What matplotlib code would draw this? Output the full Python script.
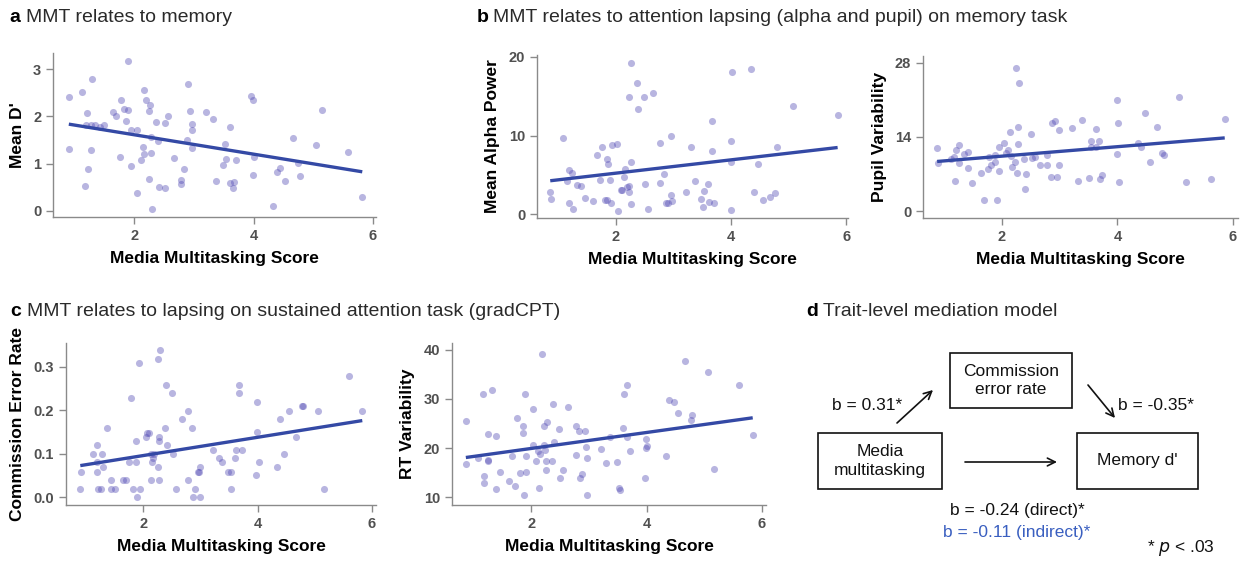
import numpy as np
import matplotlib.pyplot as plt
from matplotlib.patches import Rectangle

plt.rcParams['font.family'] = ['Liberation Sans', 'DejaVu Sans']

# a: memory d'
mem_x = [0.905, 0.91, 1.12, 1.30, 1.21, 1.20, 1.27, 1.35, 1.42, 1.50, 1.27, 1.22, 1.18,
         1.78, 1.64, 1.69, 1.83, 1.89, 1.90, 1.87, 1.76, 1.95, 2.05, 1.95, 2.14, 2.16,
         2.11, 2.05, 2.17, 2.20, 2.26, 2.25, 2.28, 2.40, 2.37, 2.28, 2.25, 2.29, 2.42,
         2.51, 2.52, 2.57, 2.66, 2.88, 2.84, 2.78, 2.78, 2.90, 2.94, 2.97, 2.96, 2.97,
         3.21, 3.32, 3.37, 3.52, 3.53, 3.48, 3.60, 3.61, 3.67, 3.66, 3.71, 3.96, 3.99,
         4.00, 3.99, 4.33, 4.39, 4.45, 4.53, 4.66, 4.74, 4.78, 5.04, 5.15, 5.58, 5.82]
mem_y = [2.41, 1.30, 2.51, 2.79, 2.06, 1.81, 1.81, 1.81, 1.78, 1.81, 1.29, 0.89, 0.52,
         2.34, 2.10, 2.00, 2.15, 3.17, 2.13, 1.91, 1.13, 1.71, 1.71, 0.95, 1.35, 1.21,
         1.07, 0.37, 2.55, 2.34, 2.24, 2.11, 1.57, 1.48, 1.88, 1.23, 0.68, 0.04, 0.51,
         0.49, 1.85, 2.01, 1.12, 1.49, 0.89, 0.66, 0.56, 2.68, 2.12, 1.83, 1.71, 1.32,
         2.10, 1.95, 0.63, 1.42, 1.09, 0.97, 1.77, 0.59, 0.61, 0.49, 1.07, 2.44, 2.34,
         1.13, 0.76, 0.10, 0.83, 0.90, 0.63, 1.54, 1.02, 0.73, 1.40, 2.14, 1.25, 0.30]

# b: alpha power
alpha_x = [0.86, 0.87, 1.08, 1.18, 1.24, 1.15, 1.18, 1.26, 1.33, 1.40, 1.46, 1.61, 1.67,
           1.75, 1.73, 1.81, 1.85, 1.85, 1.87, 1.89, 1.91, 1.93, 2.03, 2.02, 2.09, 2.11,
           2.15, 2.14, 2.19, 2.23, 2.23, 2.26, 2.26, 2.23, 2.27, 2.36, 2.38, 2.49, 2.65,
           2.51, 2.56, 2.77, 2.77, 2.84, 2.87, 2.90, 2.95, 2.96, 2.97, 3.21, 3.31, 3.38,
           3.48, 3.53, 3.52, 3.60, 3.62, 3.71, 3.66, 3.67, 4.00, 3.99, 4.00, 4.02, 4.34,
           4.40, 4.47, 4.55, 4.68, 4.77, 4.80, 5.07, 5.85]
alpha_y = [2.80, 1.91, 9.64, 5.56, 5.22, 4.16, 1.40, 0.68, 3.69, 3.52, 2.08, 1.61, 7.56,
           8.58, 4.37, 1.78, 1.78, 6.96, 6.33, 4.33, 1.44, 8.75, 0.42, 8.87, 3.01, 3.01,
           5.73, 4.71, 3.44, 3.52, 2.80, 6.67, 1.32, 14.95, 19.24, 16.69, 13.38, 14.86, 15.46,
           3.82, 0.64, 9.00, 3.99, 5.05, 1.36, 1.36, 2.38, 9.89, 1.61, 2.80, 8.54, 4.25,
           1.87, 2.97, 0.89, 3.86, 1.49, 1.36, 8.03, 11.85, 9.30, 6.67, 0.55, 18.13, 18.51,
           2.80, 6.33, 1.83, 2.21, 2.72, 8.49, 13.76, 12.65]

# b: pupil variability
pupil_x = [0.875, 0.89, 1.12, 1.16, 1.20, 1.18, 1.26, 1.26, 1.34, 1.41, 1.41, 1.48, 1.63,
           1.69, 1.75, 1.77, 1.81, 1.87, 1.87, 1.91, 1.94, 1.95, 2.04, 2.06, 2.10, 2.14,
           2.16, 2.17, 2.23, 2.26, 2.28, 2.28, 2.25, 2.29, 2.38, 2.42, 2.40, 2.51, 2.52,
           2.57, 2.66, 2.78, 2.78, 2.85, 2.87, 2.91, 2.95, 2.98, 2.98, 3.22, 3.32, 3.39,
           3.50, 3.54, 3.55, 3.62, 3.63, 3.68, 3.69, 3.73, 3.99, 4.00, 4.01, 4.02, 4.35,
           4.41, 4.48, 4.56, 4.69, 4.77, 4.80, 5.07, 5.18, 5.62, 5.86]
pupil_y = [11.85, 9.14, 9.77, 10.28, 11.54, 5.61, 12.42, 9.02, 10.78, 11.16, 8.13, 5.30, 7.12,
           2.02, 7.88, 10.15, 8.64, 10.59, 9.33, 2.02, 7.63, 12.04, 12.93, 11.03, 11.48, 14.94,
           10.40, 8.32, 9.27, 7.12, 12.61, 15.83, 27.11, 24.15, 9.84, 7.00, 4.16, 14.63, 10.09,
           10.28, 8.76, 10.53, 8.76, 6.49, 16.58, 17.09, 6.43, 15.32, 8.70, 15.76, 5.61, 17.15,
           6.18, 13.18, 12.17, 15.45, 12.17, 13.30, 6.05, 6.81, 10.84, 21.00, 16.71, 5.49, 12.93,
           12.04, 18.54, 9.33, 15.95, 10.91, 10.59, 21.56, 5.42, 6.05, 17.34]

# c: commission error rate
ce_x = [0.907, 0.90, 1.12, 1.19, 1.20, 1.20, 1.21, 1.27, 1.28, 1.30, 1.36, 1.43, 1.44,
        1.50, 1.65, 1.70, 1.78, 1.76, 1.83, 1.88, 1.88, 1.90, 1.92, 1.95, 2.05, 2.07,
        2.10, 2.13, 2.16, 2.17, 2.14, 2.19, 2.26, 2.29, 2.28, 2.28, 2.26, 2.27, 2.38,
        2.40, 2.42, 2.51, 2.52, 2.58, 2.67, 2.78, 2.78, 2.85, 2.87, 2.91, 2.95, 2.97,
        2.99, 2.99, 3.22, 3.33, 3.38, 3.49, 3.53, 3.54, 3.61, 3.62, 3.67, 3.68, 3.72,
        3.98, 3.99, 3.99, 4.02, 4.34, 4.40, 4.47, 4.55, 4.67, 4.77, 4.79, 5.05, 5.16,
        5.59, 5.83]
ce_y = [0.059, 0.019, 0.099, 0.119, 0.080, 0.059, 0.019, 0.019, 0.099, 0.070, 0.160, 0.039, 0.019,
        0.019, 0.039, 0.039, 0.229, 0.080, 0.019, 0.129, 0.080, 0.0, 0.308, 0.019, 0.138, 0.148,
        0.148, 0.099, 0.080, 0.090, 0.039, 0.099, 0.318, 0.338, 0.138, 0.129, 0.070, 0.039, 0.160,
        0.259, 0.119, 0.239, 0.099, 0.019, 0.179, 0.199, 0.039, 0.159, 0.0, 0.019, 0.059, 0.059,
        0.070, 0.0, 0.109, 0.090, 0.080, 0.059, 0.059, 0.019, 0.090, 0.109, 0.239, 0.259, 0.109,
        0.050, 0.149, 0.219, 0.080, 0.070, 0.179, 0.099, 0.199, 0.138, 0.209, 0.209, 0.199, 0.019,
        0.278, 0.199]

# c: RT variability
rt_x = [0.875, 0.87, 1.08, 1.16, 1.18, 1.18, 1.25, 1.26, 1.26, 1.33, 1.40, 1.40, 1.47,
        1.62, 1.67, 1.73, 1.75, 1.80, 1.86, 1.86, 1.88, 1.89, 1.92, 1.92, 2.03, 2.03,
        2.08, 2.12, 2.15, 2.14, 2.19, 2.23, 2.23, 2.24, 2.27, 2.26, 2.26, 2.37, 2.38,
        2.40, 2.49, 2.50, 2.56, 2.64, 2.77, 2.77, 2.83, 2.85, 2.89, 2.93, 2.96, 2.97,
        2.97, 3.21, 3.30, 3.37, 3.48, 3.52, 3.54, 3.60, 3.61, 3.66, 3.67, 3.71, 3.97,
        3.99, 3.99, 4.01, 4.33, 4.39, 4.47, 4.54, 4.67, 4.77, 4.79, 5.06, 5.17, 5.61, 5.84]
rt_y = [25.6, 16.7, 17.9, 31.0, 14.4, 12.8, 22.8, 17.5, 17.3, 31.9, 22.5, 11.6, 15.2,
        13.3, 18.4, 12.2, 26.2, 15.0, 24.5, 23.0, 10.4, 31.1, 18.4, 15.1, 27.9, 20.6,
        17.3, 19.5, 18.8, 11.9, 39.1, 24.5, 20.6, 19.6, 25.4, 17.3, 15.6, 17.4, 29.0,
        21.3, 23.8, 13.8, 15.6, 28.3, 24.5, 18.6, 23.4, 13.9, 14.8, 23.4, 20.2, 18.0,
        10.4, 19.8, 17.0, 22.2, 17.1, 11.8, 11.5, 24.1, 31.1, 32.9, 22.2, 19.5, 14.0,
        21.9, 20.0, 20.5, 18.4, 29.8, 29.3, 27.1, 37.8, 25.8, 26.8, 35.5, 15.7, 32.9, 22.7]

# d: mediation model
box_labels = ['Media\nmultitasking', 'Commission\nerror rate', "Memory d'"]
path_a = 'b = 0.31*'
path_b = 'b = -0.35*'
path_direct = 'b = -0.24 (direct)*'
path_indirect = 'b = -0.11 (indirect)*'

W, H = 1251, 562
fig = plt.figure(figsize=(W / 100, H / 100), dpi=100)

dot_color = '#4f47b3'
line_color = '#3449a5'
tick_color = '#505050'
spine_color = '#8a8a8a'


def px_rect(left, top, right, bottom):
    return [left / W, (H - bottom) / H, (right - left) / W, (bottom - top) / H]


def scatter_panel(rect, x, y, xlim, ylim, yticks, ylabel):
    ax = fig.add_axes(rect)
    x = np.array(x)
    y = np.array(y)
    ax.scatter(x, y, s=26, color=dot_color, alpha=0.4, linewidths=0)
    k, b0 = np.polyfit(x, y, 1)
    xs = np.array([x.min(), x.max()])
    ax.plot(xs, k * xs + b0, color=line_color, lw=2.4, solid_capstyle='butt')
    ax.set_xlim(xlim)
    ax.set_ylim(ylim)
    ax.set_xticks([2, 4, 6])
    ax.set_yticks(yticks)
    for s in ['top', 'right']:
        ax.spines[s].set_visible(False)
    for s in ['left', 'bottom']:
        ax.spines[s].set_color(spine_color)
        ax.spines[s].set_linewidth(1.0)
    ax.tick_params(direction='out', length=5, width=1, color=spine_color,
                   labelcolor=tick_color, labelsize=10.5)
    for lab in ax.get_xticklabels() + ax.get_yticklabels():
        lab.set_fontweight('bold')
    ax.set_xlabel('Media Multitasking Score', fontsize=12.5, fontweight='bold', labelpad=6)
    ax.set_ylabel(ylabel, fontsize=12.5, fontweight='bold', labelpad=6)
    return ax


ax_a = scatter_panel(px_rect(53, 53, 376, 217), mem_x, mem_y, (0.64, 6.05), (-0.13, 3.34),
                     [0, 1, 2, 3], "Mean D'")
ax_b1 = scatter_panel(px_rect(537, 55, 848, 218), alpha_x, alpha_y, (0.63, 6.03), (-0.5, 20.25),
                      [0, 10, 20], 'Mean Alpha Power')
ax_b2 = scatter_panel(px_rect(923, 56, 1238, 218), pupil_x, pupil_y, (0.63, 6.09), (-1.3, 29.3),
                      [0, 14, 28], 'Pupil Variability')
ax_c1 = scatter_panel(px_rect(66, 343, 376, 505), ce_x, ce_y, (0.65, 6.07), (-0.018, 0.355),
                      [0.0, 0.1, 0.2, 0.3], 'Commission Error Rate')
ax_c1.set_yticklabels(['0.0', '0.1', '0.2', '0.3'], fontweight='bold')
ax_c2 = scatter_panel(px_rect(452, 343, 766, 505), rt_x, rt_y, (0.63, 6.07), (8.4, 41.4),
                      [10, 20, 30, 40], 'RT Variability')

# panel titles
titles = [(9, 26, 17, 'a', 'MMT relates to memory'),
          (477, 493, 17, 'b', 'MMT relates to attention lapsing (alpha and pupil) on memory task'),
          (10, 27, 312, 'c', 'MMT relates to lapsing on sustained attention task (gradCPT)'),
          (806, 823, 312, 'd', 'Trait-level mediation model')]
for xl, xt, yy, letter, txt in titles:
    fig.text(xl / W, 1 - yy / H, letter, fontsize=14, fontweight='bold', va='center', ha='left')
    fig.text(xt / W, 1 - yy / H, txt, fontsize=14, va='center', ha='left', color='#2a2a2a')

# panel d diagram in pixel coordinates
ax_d = fig.add_axes([0, 0, 1, 1], zorder=-1)
ax_d.set_xlim(0, W)
ax_d.set_ylim(H, 0)
ax_d.axis('off')
ax_d.patch.set_alpha(0)

boxes = [(818, 433, 942, 489), (950, 353, 1072, 408), (1077, 433, 1198, 489)]
for (l, t, r, btm), lab in zip(boxes, box_labels):
    ax_d.add_patch(Rectangle((l, t), r - l, btm - t, fill=False, ec='#111111', lw=1.2))
    ax_d.text((l + r) / 2, (t + btm) / 2, lab, ha='center', va='center', fontsize=12.5,
              linespacing=1.25, color='#111111')

arrow_kw = dict(arrowstyle='->', color='#111111', lw=1.2, mutation_scale=14,
                shrinkA=0, shrinkB=0)
ax_d.annotate('', xy=(933, 390), xytext=(897, 423), arrowprops=arrow_kw)
ax_d.annotate('', xy=(1115, 418), xytext=(1088, 385), arrowprops=arrow_kw)
ax_d.annotate('', xy=(1057, 462), xytext=(965, 462), arrowprops=arrow_kw)

ax_d.text(867, 405, path_a, ha='center', va='center', fontsize=12.5, color='#111111')
ax_d.text(1118, 405, path_b, ha='left', va='center', fontsize=12.5, color='#111111')
ax_d.text(1017, 510, path_direct, ha='center', va='center', fontsize=12.5, color='#111111')
ax_d.text(1017, 533, path_indirect, ha='center', va='center', fontsize=12.5, color='#3a5fc0')
ax_d.text(1147, 548, r'* $\it{p}$ < .03', ha='left', va='center', fontsize=12.5, color='#111111')

fig.savefig('out.png', dpi=100)
